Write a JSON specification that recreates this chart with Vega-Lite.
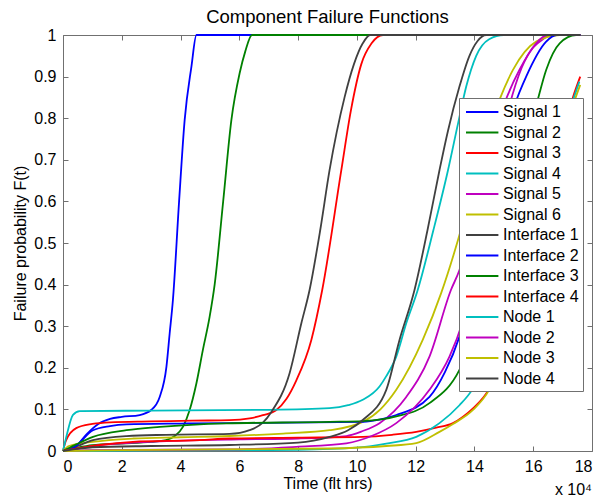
{
"$schema": "https://vega.github.io/schema/vega-lite/v6.json",
"width": 529, "height": 416,
"autosize": {"type": "none"},
"padding": {"left": 63, "top": 35, "right": 8, "bottom": 46},
"background": "white",
"title": {"text": "Component Failure Functions", "fontSize": 18.5, "fontWeight": "normal", "font": "Liberation Sans", "color": "black", "offset": 1},
"config": {"view": {"stroke": "#707070", "strokeWidth": 1}, "font": "Liberation Sans"},
"datasets": {"curves": [
{"s":"Signal 1","x":0,"y":0},{"s":"Signal 1","x":0.45,"y":0.012},{"s":"Signal 1","x":0.8,"y":0.04},{"s":"Signal 1","x":1.2,"y":0.065},{"s":"Signal 1","x":1.6,"y":0.077},{"s":"Signal 1","x":2.0,"y":0.082},{"s":"Signal 1","x":2.61,"y":0.0865},{"s":"Signal 1","x":3.0,"y":0.0986},{"s":"Signal 1","x":3.29,"y":0.13},{"s":"Signal 1","x":3.52,"y":0.203},{"s":"Signal 1","x":3.63,"y":0.283},{"s":"Signal 1","x":3.74,"y":0.363},{"s":"Signal 1","x":3.95,"y":0.6},{"s":"Signal 1","x":4.14,"y":0.796},{"s":"Signal 1","x":4.37,"y":0.924},{"s":"Signal 1","x":4.54,"y":1},{"s":"Signal 1","x":17.6,"y":1},
{"s":"Signal 2","x":0,"y":0},{"s":"Signal 2","x":0.5,"y":0.008},{"s":"Signal 2","x":1,"y":0.014},{"s":"Signal 2","x":2,"y":0.018},{"s":"Signal 2","x":3,"y":0.022},{"s":"Signal 2","x":3.5,"y":0.026},{"s":"Signal 2","x":3.8,"y":0.036},{"s":"Signal 2","x":4.08,"y":0.058},{"s":"Signal 2","x":4.31,"y":0.0986},{"s":"Signal 2","x":4.54,"y":0.163},{"s":"Signal 2","x":4.76,"y":0.243},{"s":"Signal 2","x":4.99,"y":0.323},{"s":"Signal 2","x":5.16,"y":0.4},{"s":"Signal 2","x":5.45,"y":0.6},{"s":"Signal 2","x":5.73,"y":0.796},{"s":"Signal 2","x":6.01,"y":0.908},{"s":"Signal 2","x":6.2,"y":0.96},{"s":"Signal 2","x":6.43,"y":1},{"s":"Signal 2","x":17.6,"y":1},
{"s":"Signal 3","x":0,"y":0},{"s":"Signal 3","x":0.1,"y":0.025},{"s":"Signal 3","x":0.45,"y":0.055},{"s":"Signal 3","x":1.0,"y":0.065},{"s":"Signal 3","x":1.6,"y":0.069},{"s":"Signal 3","x":3,"y":0.071},{"s":"Signal 3","x":4.4,"y":0.073},{"s":"Signal 3","x":5.67,"y":0.074},{"s":"Signal 3","x":6.35,"y":0.0785},{"s":"Signal 3","x":6.8,"y":0.086},{"s":"Signal 3","x":7.26,"y":0.0986},{"s":"Signal 3","x":7.6,"y":0.125},{"s":"Signal 3","x":7.94,"y":0.17},{"s":"Signal 3","x":8.45,"y":0.267},{"s":"Signal 3","x":8.82,"y":0.387},{"s":"Signal 3","x":9.47,"y":0.675},{"s":"Signal 3","x":9.8,"y":0.82},{"s":"Signal 3","x":10.15,"y":0.93},{"s":"Signal 3","x":10.5,"y":0.98},{"s":"Signal 3","x":10.89,"y":1},{"s":"Signal 3","x":17.6,"y":1},
{"s":"Signal 4","x":0,"y":0},{"s":"Signal 4","x":0.1,"y":0.03},{"s":"Signal 4","x":0.34,"y":0.087},{"s":"Signal 4","x":0.57,"y":0.096},{"s":"Signal 4","x":3,"y":0.097},{"s":"Signal 4","x":7,"y":0.099},{"s":"Signal 4","x":9.07,"y":0.103},{"s":"Signal 4","x":9.7,"y":0.11},{"s":"Signal 4","x":10.2,"y":0.123},{"s":"Signal 4","x":10.77,"y":0.155},{"s":"Signal 4","x":11.0,"y":0.18},{"s":"Signal 4","x":11.34,"y":0.227},{"s":"Signal 4","x":11.68,"y":0.307},{"s":"Signal 4","x":12.07,"y":0.387},{"s":"Signal 4","x":12.6,"y":0.53},{"s":"Signal 4","x":13.1,"y":0.675},{"s":"Signal 4","x":13.45,"y":0.79},{"s":"Signal 4","x":13.72,"y":0.876},{"s":"Signal 4","x":14.06,"y":0.95},{"s":"Signal 4","x":14.5,"y":0.99},{"s":"Signal 4","x":15.0,"y":1},{"s":"Signal 4","x":17.6,"y":1},
{"s":"Signal 5","x":0,"y":0},{"s":"Signal 5","x":0.5,"y":0.006},{"s":"Signal 5","x":1.25,"y":0.014},{"s":"Signal 5","x":2.4,"y":0.02},{"s":"Signal 5","x":4,"y":0.025},{"s":"Signal 5","x":6,"y":0.028},{"s":"Signal 5","x":8,"y":0.03},{"s":"Signal 5","x":9.64,"y":0.036},{"s":"Signal 5","x":10.2,"y":0.048},{"s":"Signal 5","x":10.77,"y":0.067},{"s":"Signal 5","x":11.68,"y":0.13},{"s":"Signal 5","x":12.47,"y":0.227},{"s":"Signal 5","x":13.2,"y":0.387},{"s":"Signal 5","x":13.49,"y":0.435},{"s":"Signal 5","x":14.2,"y":0.65},{"s":"Signal 5","x":15.02,"y":0.836},{"s":"Signal 5","x":15.53,"y":0.916},{"s":"Signal 5","x":16.0,"y":0.97},{"s":"Signal 5","x":16.33,"y":0.99},{"s":"Signal 5","x":16.6,"y":1},{"s":"Signal 5","x":17.6,"y":1},
{"s":"Signal 6","x":0,"y":0},{"s":"Signal 6","x":0.2,"y":0.012},{"s":"Signal 6","x":1,"y":0.022},{"s":"Signal 6","x":2.38,"y":0.03},{"s":"Signal 6","x":4,"y":0.033},{"s":"Signal 6","x":5.67,"y":0.036},{"s":"Signal 6","x":7.5,"y":0.042},{"s":"Signal 6","x":9.07,"y":0.05},{"s":"Signal 6","x":10.2,"y":0.07},{"s":"Signal 6","x":10.8,"y":0.1},{"s":"Signal 6","x":11.34,"y":0.147},{"s":"Signal 6","x":12.24,"y":0.267},{"s":"Signal 6","x":12.87,"y":0.38},{"s":"Signal 6","x":13.44,"y":0.507},{"s":"Signal 6","x":14.1,"y":0.68},{"s":"Signal 6","x":14.85,"y":0.844},{"s":"Signal 6","x":15.31,"y":0.916},{"s":"Signal 6","x":16.1,"y":0.984},{"s":"Signal 6","x":16.9,"y":1},{"s":"Signal 6","x":17.6,"y":1},
{"s":"Interface 1","x":0,"y":0},{"s":"Interface 1","x":0.5,"y":0.012},{"s":"Interface 1","x":1.02,"y":0.026},{"s":"Interface 1","x":2.16,"y":0.036},{"s":"Interface 1","x":3.5,"y":0.039},{"s":"Interface 1","x":5.67,"y":0.041},{"s":"Interface 1","x":6.35,"y":0.05},{"s":"Interface 1","x":6.8,"y":0.068},{"s":"Interface 1","x":7.09,"y":0.094},{"s":"Interface 1","x":7.71,"y":0.187},{"s":"Interface 1","x":8.11,"y":0.307},{"s":"Interface 1","x":8.39,"y":0.387},{"s":"Interface 1","x":8.75,"y":0.53},{"s":"Interface 1","x":9.07,"y":0.675},{"s":"Interface 1","x":9.58,"y":0.85},{"s":"Interface 1","x":9.9,"y":0.93},{"s":"Interface 1","x":10.2,"y":0.98},{"s":"Interface 1","x":10.45,"y":1},{"s":"Interface 1","x":17.6,"y":1},
{"s":"Interface 2","x":0,"y":0},{"s":"Interface 2","x":0.4,"y":0.01},{"s":"Interface 2","x":1.02,"y":0.05},{"s":"Interface 2","x":1.6,"y":0.06},{"s":"Interface 2","x":2.16,"y":0.064},{"s":"Interface 2","x":4,"y":0.066},{"s":"Interface 2","x":5.67,"y":0.067},{"s":"Interface 2","x":10.2,"y":0.07},{"s":"Interface 2","x":10.8,"y":0.076},{"s":"Interface 2","x":11.34,"y":0.0866},{"s":"Interface 2","x":12.47,"y":0.13},{"s":"Interface 2","x":13.0,"y":0.19},{"s":"Interface 2","x":13.49,"y":0.275},{"s":"Interface 2","x":14.4,"y":0.55},{"s":"Interface 2","x":15.36,"y":0.83},{"s":"Interface 2","x":15.76,"y":0.9},{"s":"Interface 2","x":16.44,"y":0.984},{"s":"Interface 2","x":16.8,"y":1},{"s":"Interface 2","x":17.6,"y":1},
{"s":"Interface 3","x":0,"y":0},{"s":"Interface 3","x":0.4,"y":0.014},{"s":"Interface 3","x":1.02,"y":0.034},{"s":"Interface 3","x":2.16,"y":0.05},{"s":"Interface 3","x":3.29,"y":0.058},{"s":"Interface 3","x":5.56,"y":0.0665},{"s":"Interface 3","x":9.07,"y":0.07},{"s":"Interface 3","x":10.2,"y":0.072},{"s":"Interface 3","x":11.34,"y":0.083},{"s":"Interface 3","x":12.47,"y":0.115},{"s":"Interface 3","x":13.49,"y":0.195},{"s":"Interface 3","x":14.5,"y":0.4},{"s":"Interface 3","x":15.3,"y":0.63},{"s":"Interface 3","x":16.1,"y":0.83},{"s":"Interface 3","x":16.44,"y":0.916},{"s":"Interface 3","x":16.9,"y":0.98},{"s":"Interface 3","x":17.46,"y":1},{"s":"Interface 3","x":17.6,"y":1},
{"s":"Interface 4","x":0,"y":0},{"s":"Interface 4","x":0.5,"y":0.006},{"s":"Interface 4","x":1.25,"y":0.0144},{"s":"Interface 4","x":2.38,"y":0.022},{"s":"Interface 4","x":4.65,"y":0.026},{"s":"Interface 4","x":5.67,"y":0.03},{"s":"Interface 4","x":8,"y":0.032},{"s":"Interface 4","x":10.2,"y":0.034},{"s":"Interface 4","x":11.2,"y":0.039},{"s":"Interface 4","x":12.02,"y":0.046},{"s":"Interface 4","x":12.7,"y":0.056},{"s":"Interface 4","x":13.27,"y":0.067},{"s":"Interface 4","x":13.6,"y":0.082},{"s":"Interface 4","x":13.95,"y":0.1026},{"s":"Interface 4","x":14.5,"y":0.15},{"s":"Interface 4","x":15.0,"y":0.24},{"s":"Interface 4","x":15.6,"y":0.38},{"s":"Interface 4","x":16.2,"y":0.53},{"s":"Interface 4","x":16.75,"y":0.68},{"s":"Interface 4","x":17.35,"y":0.85},{"s":"Interface 4","x":17.6,"y":0.9},
{"s":"Node 1","x":0,"y":0},{"s":"Node 1","x":2,"y":0.001},{"s":"Node 1","x":6,"y":0.002},{"s":"Node 1","x":8,"y":0.003},{"s":"Node 1","x":9.98,"y":0.008},{"s":"Node 1","x":11,"y":0.018},{"s":"Node 1","x":12.02,"y":0.034},{"s":"Node 1","x":12.81,"y":0.067},{"s":"Node 1","x":13.49,"y":0.11},{"s":"Node 1","x":13.95,"y":0.15},{"s":"Node 1","x":14.6,"y":0.25},{"s":"Node 1","x":15.3,"y":0.4},{"s":"Node 1","x":16.0,"y":0.56},{"s":"Node 1","x":16.8,"y":0.73},{"s":"Node 1","x":17.57,"y":0.888},
{"s":"Node 2","x":0,"y":0},{"s":"Node 2","x":1,"y":0.002},{"s":"Node 2","x":6,"y":0.004},{"s":"Node 2","x":7.94,"y":0.01},{"s":"Node 2","x":9.64,"y":0.0185},{"s":"Node 2","x":10.5,"y":0.036},{"s":"Node 2","x":11.34,"y":0.067},{"s":"Node 2","x":12.47,"y":0.147},{"s":"Node 2","x":13.15,"y":0.227},{"s":"Node 2","x":13.6,"y":0.31},{"s":"Node 2","x":14.4,"y":0.55},{"s":"Node 2","x":15.19,"y":0.83},{"s":"Node 2","x":15.6,"y":0.92},{"s":"Node 2","x":16.1,"y":0.98},{"s":"Node 2","x":16.5,"y":1},{"s":"Node 2","x":17.6,"y":1},
{"s":"Node 3","x":0,"y":0},{"s":"Node 3","x":2,"y":0.002},{"s":"Node 3","x":9.07,"y":0.006},{"s":"Node 3","x":11,"y":0.012},{"s":"Node 3","x":12.02,"y":0.019},{"s":"Node 3","x":12.81,"y":0.046},{"s":"Node 3","x":13.27,"y":0.065},{"s":"Node 3","x":13.95,"y":0.0986},{"s":"Node 3","x":14.5,"y":0.147},{"s":"Node 3","x":15.0,"y":0.23},{"s":"Node 3","x":15.6,"y":0.37},{"s":"Node 3","x":16.2,"y":0.52},{"s":"Node 3","x":16.75,"y":0.67},{"s":"Node 3","x":17.35,"y":0.83},{"s":"Node 3","x":17.6,"y":0.88},
{"s":"Node 4","x":0,"y":0},{"s":"Node 4","x":0.5,"y":0.005},{"s":"Node 4","x":1,"y":0.009},{"s":"Node 4","x":3,"y":0.012},{"s":"Node 4","x":5.67,"y":0.0144},{"s":"Node 4","x":8,"y":0.02},{"s":"Node 4","x":9.07,"y":0.034},{"s":"Node 4","x":9.7,"y":0.05},{"s":"Node 4","x":10.2,"y":0.0745},{"s":"Node 4","x":11.0,"y":0.147},{"s":"Node 4","x":11.45,"y":0.267},{"s":"Node 4","x":11.96,"y":0.387},{"s":"Node 4","x":12.4,"y":0.53},{"s":"Node 4","x":12.81,"y":0.675},{"s":"Node 4","x":13.1,"y":0.77},{"s":"Node 4","x":13.49,"y":0.876},{"s":"Node 4","x":13.83,"y":0.95},{"s":"Node 4","x":14.1,"y":0.985},{"s":"Node 4","x":14.4,"y":1},{"s":"Node 4","x":17.6,"y":1}
], "note": [{"label": "x 10⁴"}]},
"resolve": {"axis": {"x": "independent", "y": "independent"}},
"layer": [
{"data": {"name": "curves"},
 "mark": {"type": "line", "strokeWidth": 1.8, "interpolate": "monotone", "clip": false},
 "encoding": {
  "x": {"field": "x", "type": "quantitative", "scale": {"domain": [0, 18], "nice": false, "zero": false},
        "axis": {"orient": "bottom", "values": [0,2,4,6,8,10,12,14,16,18], "format": "d", "grid": false, "domain": false,
                 "tickSize": -5, "tickColor": "#707070", "labelPadding": 12, "labelFontSize": 16, "labelColor": "black", "labelFont": "Liberation Sans",
                 "title": "Time (flt hrs)", "titleFontSize": 16, "titleFontWeight": "normal", "titleFont": "Liberation Sans", "titleColor": "black", "titlePadding": 1}},
  "y": {"field": "y", "type": "quantitative", "scale": {"domain": [0, 1], "nice": false},
        "axis": {"orient": "left", "values": [0,0.1,0.2,0.3,0.4,0.5,0.6,0.7,0.8,0.9,1], "format": "~g", "grid": false, "domain": false,
                 "tickSize": -5, "tickColor": "#707070", "labelPadding": 12, "labelFontSize": 16, "labelColor": "black", "labelFont": "Liberation Sans",
                 "title": "Failure probability F(t)", "titleFontSize": 16, "titleFontWeight": "normal", "titleFont": "Liberation Sans", "titleColor": "black", "titlePadding": 5}},
  "color": {"field": "s", "type": "nominal",
            "scale": {"domain": ["Signal 1","Signal 2","Signal 3","Signal 4","Signal 5","Signal 6","Interface 1","Interface 2","Interface 3","Interface 4","Node 1","Node 2","Node 3","Node 4"],
                      "range": ["#0000ff","#008000","#ff0000","#00bfbf","#bf00bf","#bfbf00","#404040","#0000ff","#008000","#ff0000","#00bfbf","#bf00bf","#bfbf00","#404040"]},
            "legend": {"title": null, "orient": "none", "legendX": 396, "legendY": 63, "symbolType": "M-1,0H2.6", "symbolSize": 324, "symbolStrokeWidth": 2,
                       "symbolOffset": 2, "labelOffset": 18, "labelFontSize": 16, "labelFont": "Liberation Sans", "labelColor": "black", "rowPadding": 2.5,
                       "padding": 4, "strokeColor": "#707070", "fillColor": "white", "labelLimit": 200}}
 }},
{"data": {"name": "note"},
 "mark": {"type": "text", "align": "right", "baseline": "alphabetic", "fontSize": 16, "font": "Liberation Sans", "color": "black"},
 "encoding": {
  "x": {"datum": 18, "type": "quantitative", "axis": {"orient": "top", "values": [0,2,4,6,8,10,12,14,16,18], "labels": false, "grid": false, "domain": false, "tickSize": -5, "tickColor": "#707070", "title": null}},
  "y": {"datum": -0.106, "type": "quantitative", "axis": {"orient": "right", "values": [0,0.1,0.2,0.3,0.4,0.5,0.6,0.7,0.8,0.9,1], "labels": false, "grid": false, "domain": false, "tickSize": -5, "tickColor": "#707070", "title": null}},
  "text": {"field": "label"}
 }}
]
}
